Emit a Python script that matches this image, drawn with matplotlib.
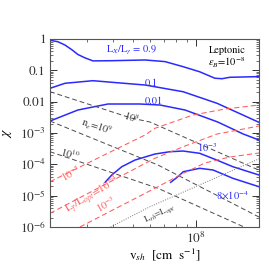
import numpy as np
import matplotlib
matplotlib.use("Agg")
import matplotlib.pyplot as plt
from matplotlib.ticker import LogLocator, FixedLocator, NullFormatter

plt.rcParams['font.family'] = ['STIXGeneral', 'DejaVu Serif']
plt.rcParams['mathtext.fontset'] = 'stix'

# blue curves: chi vs v_sh for several L_X/L_gamma
v_09 = [2.0e7, 2.18e7, 2.36e7, 2.55e7, 2.72e7, 2.94e7, 3.21e7, 3.96e7, 5.70e7, 7.10e7, 8.66e7, 1.04e8, 1.23e8, 1.33e8, 1.45e8, 2.0e8]
chi_09 = [0.91, 0.82, 0.64, 0.45, 0.32, 0.25, 0.20, 0.203, 0.214, 0.19, 0.131, 0.090, 0.056, 0.054, 0.060, 0.063]

v_01 = [2.0e7, 2.36e7, 3.21e7, 3.96e7, 5.70e7, 8.66e7, 1.26e8, 2.0e8]
chi_01 = [0.0267, 0.0386, 0.0467, 0.0415, 0.034, 0.0208, 0.00887, 0.00219]

v_001 = [2.0e7, 2.72e7, 3.79e7, 5.39e7, 6.72e7, 8.85e7, 1.27e8, 1.68e8, 2.0e8]
chi_001 = [0.00241, 0.00542, 0.00842, 0.00842, 0.00782, 0.00542, 0.00224, 0.00093, 0.000597]

v_1em3 = [3.67e7, 3.95e7, 4.41e7, 5.10e7, 6.35e7, 7.50e7, 8.66e7, 1.04e8, 1.256e8, 1.50e8, 2.0e8]
chi_1em3 = [2.67e-5, 4.56e-5, 8.39e-5, 1.37e-4, 2.13e-4, 2.53e-4, 2.66e-4, 2.25e-4, 1.37e-4, 8.39e-5, 4.56e-5]

v_8em4 = [7.56e7, 8.07e7, 8.69e7, 1.04e8, 1.206e8, 1.50e8, 2.0e8]
chi_8em4 = [2.67e-5, 3.74e-5, 5.82e-5, 7.47e-5, 6.59e-5, 3.58e-5, 1.93e-5]

# n_e = const (black dashed)
v_ne8 = [2.0e7, 4.88e7, 6.02e7, 2.0e8]
chi_ne8 = [0.0208, 0.00301, 0.00224, 6.5e-5]
v_ne9 = [2.0e7, 6.57e7, 2.0e8]
chi_ne9 = [0.00241, 9.51e-5, 2.08e-6]
v_ne10 = [2.0e7, 6.57e7, 2.0e8]
chi_ne10 = [2.53e-4, 1.72e-5, 6.1e-7]

# L_gamma/L_opt = const (red dashed)
v_r5 = [2.0e7, 3.47e7, 5.70e7, 6.35e7, 9.67e7, 1.375e8, 2.0e8]
chi_r5 = [2.79e-5, 1.71e-4, 8.63e-4, 1.41e-3, 3.75e-3, 5.83e-3, 7.82e-3]
v_r4 = [2.0e7, 6.35e7, 8.85e7, 1.26e8, 2.0e8]
chi_r4 = [2.73e-6, 1.56e-4, 3.84e-4, 9.29e-4, 1.67e-3]
v_r3 = [2.78e7, 6.35e7, 8.38e7, 1.10e8, 1.45e8, 2.0e8]
chi_r3 = [1.0e-6, 1.72e-5, 4.56e-5, 1.10e-4, 1.71e-4, 2.30e-4]

# L_sh = L_opt (dotted)
v_sh = [3.9e7, 6.0e7, 2.0e8]
chi_sh = [1.0e-6, 4.4e-6, 1.5e-4]

fig = plt.figure(figsize=(2.69, 2.69), dpi=100)
ax = fig.add_axes([50/269, 1-227/269, 209/269, 188/269])

blue = '#2a2aff'
red = '#ff5a5a'
gray = '#4a4a4a'

for v, c in [(v_09, chi_09), (v_01, chi_01), (v_001, chi_001), (v_1em3, chi_1em3), (v_8em4, chi_8em4)]:
    ax.plot(v, c, color=blue, lw=1.1)
for v, c in [(v_ne8, chi_ne8), (v_ne9, chi_ne9), (v_ne10, chi_ne10)]:
    ax.plot(v, c, color=gray, lw=0.7, ls=(0, (5, 3)))
for v, c in [(v_r5, chi_r5), (v_r4, chi_r4), (v_r3, chi_r3)]:
    ax.plot(v, c, color=red, lw=0.75, ls=(0, (5, 3)))
ax.plot(v_sh, chi_sh, color='#777777', lw=0.7, ls=(0, (1, 1.5)))

ax.set_xscale('log')
ax.set_yscale('log')
ax.set_xlim(2e7, 2e8)
ax.set_ylim(1e-6, 1)

fs = 7.5
ax.text(3.7e7, 0.42, r'L$_X$/L$_\gamma$ = 0.9', color=blue, fontsize=fs, va='center')
ax.text(5.7e7, 0.039, '0.1', color=blue, fontsize=fs, va='center')
ax.text(5.7e7, 0.0105, '0.01', color=blue, fontsize=fs, va='center')
ax.text(1.01e8, 3.4e-4, r'10$^{-3}$', color=blue, fontsize=fs, va='center')
ax.text(1.24e8, 9.8e-6, r'8$\times$10$^{-4}$', color=blue, fontsize=fs, va='center')
ax.text(1.72e8, 0.44, 'Leptonic', fontsize=fs, ha='right', va='center')
ax.text(1.72e8, 0.18, r'$\epsilon_B$=10$^{-8}$', fontsize=fs, ha='right', va='center')

ax.text(4.93e7, 3.2e-3, r'10$^{8}$', color='#333333', fontsize=fs, ha='center', va='center', rotation=-18)
ax.text(3.32e7, 1.55e-3, r'n$_e$=10$^{9}$', color='#333333', fontsize=fs, ha='center', va='center', rotation=-18)
ax.text(2.49e7, 2.1e-4, r'10$^{10}$', color='#333333', fontsize=fs, ha='center', va='center', rotation=-14)
ax.text(2.52e7, 5.3e-5, r'10$^{-5}$', color=red, fontsize=fs, ha='center', va='center', rotation=29)
ax.text(3.21e7, 1.05e-5, r'L$_\gamma$/L$_{opt}$=10$^{-4}$', color=red, fontsize=8, ha='center', va='center', rotation=30)
ax.text(3.71e7, 5.4e-6, r'10$^{-3}$', color=red, fontsize=fs, ha='center', va='center', rotation=29)
ax.text(6.7e7, 2.6e-6, r'L$_{sh}$=L$_{opt}$', color='#333333', fontsize=fs-1, ha='center', va='center', rotation=25)

ax.yaxis.set_major_locator(FixedLocator([1e-6, 1e-5, 1e-4, 1e-3, 1e-2, 1e-1, 1]))
ax.set_yticklabels([r'10$^{-6}$', r'10$^{-5}$', r'10$^{-4}$', r'10$^{-3}$', '0.01', '0.1', '1'])
ax.yaxis.set_minor_locator(LogLocator(base=10, subs=np.arange(2, 10), numticks=20))
ax.yaxis.set_minor_formatter(NullFormatter())
ax.xaxis.set_major_locator(FixedLocator([1e8]))
ax.set_xticklabels([r'10$^{8}$'])
ax.xaxis.set_minor_locator(LogLocator(base=10, subs=np.arange(2, 10), numticks=20))
ax.xaxis.set_minor_formatter(NullFormatter())

ax.tick_params(which='both', direction='in', top=True, right=True, labelsize=9.5, colors='#333333', pad=3)
ax.tick_params(which='major', length=5, width=0.7)
ax.tick_params(which='minor', length=2.5, width=0.5)
for s in ax.spines.values():
    s.set_color('#555555')
    s.set_linewidth(0.8)

ax.set_xlabel(r'v$_{sh}$  [cm  s$^{-1}$]', fontsize=9.5)
ax.xaxis.set_label_coords(0.55, -0.1)
ax.set_ylabel(r'$\chi$', fontsize=10)
ax.yaxis.set_label_coords(-0.17, 0.5)

fig.savefig('out.png', dpi=100)
